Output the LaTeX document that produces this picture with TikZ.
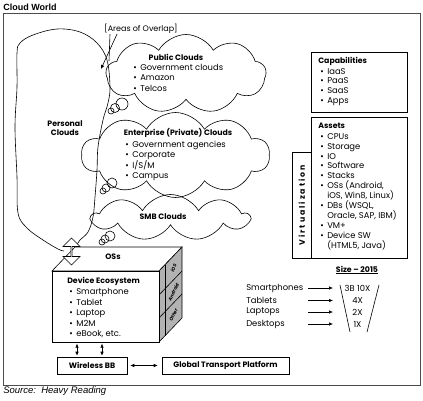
\documentclass[tikz,border=0pt]{standalone}
\usepackage{fontspec}
\setmainfont{Poppins}
\newfontfamily\arialfont{Liberation Sans}
\usetikzlibrary{arrows.meta, shapes.symbols, shapes.arrows}

\newcommand{\bl}[1]{\makebox[7pt][l]{\textbullet}#1}
\newcommand{\cn}[1]{\hspace*{7pt}#1}

\begin{document}
\begin{tikzpicture}[x=1pt,y=-1pt,>={Latex[length=4pt,width=3.5pt]},line width=0.6pt,
  txt/.style={font=\fontsize{8.4}{10.3}\selectfont, inner sep=0pt, align=left, anchor=north west},
  head/.style={font=\fontsize{7.8}{9}\selectfont\bfseries, inner sep=0pt},
  puff/.style={draw, cloud, cloud puffs=#1, cloud puff arc=120, cloud ignores aspect, inner sep=0pt},
  panel/.style={draw, rectangle, inner sep=0pt, anchor=north west},
  bbox/.style={draw, rectangle, font=\fontsize{7.8}{9}\selectfont\bfseries, minimum height=17pt, inner sep=0pt},
  slab/.style={font=\fontsize{4.6}{6}\selectfont\bfseries\itshape, rotate=65, inner sep=0pt},
  dbl/.style={<->}]
\useasboundingbox (0,0) rectangle (423,400);
% frame and captions
\node[font=\arialfont\fontsize{9}{10}\selectfont\bfseries, anchor=west, inner sep=0pt] (title) at (3,7) {Cloud World};
\draw[black!70, line width=0.8pt] (3,13) rectangle (420,385);
\node[font=\arialfont\fontsize{9.5}{10}\selectfont\itshape, anchor=west, inner sep=0pt] (src) at (3,391) {Source:\ \ Heavy Reading};

% personal clouds
\draw plot[smooth, tension=0.6] coordinates {(64,251) (58,249) (43,240) (27,228) (18,213) (17,177) (15,127) (17,87) (17,53) (20,43) (33,35) (57,29) (80,32) (97,43) (107,60) (110,87) (108,103) (103,120) (98,147) (97,170) (95,197) (93,217) (88,232) (80,240) (77,245)};
\node[head, align=center] (pers) at (65,128) {Personal\\Clouds};
\node[font=\fontsize{8}{9}\selectfont, inner sep=0pt] (ovl) at (141,29) {[Areas of Overlap]};
\coordinate (ovA) at (101,69); \coordinate (ovB) at (109,61);
\draw[->] ([xshift=-24pt]ovl.south) -- (ovA);
\draw ([xshift=-31pt]ovl.south) -- (ovB);

% clouds
\node[puff=9, minimum width=160pt, minimum height=79pt] (pub) at (186,74) {};
\node[head] at (176,57) {Public Clouds};
\node[txt] at (133,64) {\bl{Government clouds}\\\bl{Amazon}\\\bl{Telcos}};
\node[puff=10, minimum width=188pt, minimum height=85pt] (ent) at (175.5,155) {};
\node[head] at (178,133) {Enterprise (Private) Clouds};
\node[txt] at (125,141) {\bl{Government agencies}\\\bl{Corporate}\\\bl{I/S/M}\\\bl{Campus}};
\node[puff=9, minimum width=157pt, minimum height=46pt] (smb) at (170.5,217.5) {};
\node[head] at (163,217) {SMB Clouds};
\foreach \cx/\cy/\r in {122/104/6, 115/108/4.5, 111/111/3, 112/183/5, 106/188/4, 103/191/3, 110/236/5, 105/239/4, 102/242/3}
  \draw (\cx,\cy) circle[radius=\r pt];

% right panels
\node[panel, minimum width=96pt, minimum height=60pt] (cap) at (311,52) {};
\node[head, anchor=west] at (318,61) {Capabilities};
\node[txt, font=\fontsize{8.4}{9.7}\selectfont] at (320,68) {\bl{IaaS}\\\bl{PaaS}\\\bl{SaaS}\\\bl{Apps}};
\node[panel, minimum width=96pt, minimum height=141pt] (ast) at (311,117) {};
\node[head, anchor=west] at (318,126) {Assets};
\node[txt, font=\fontsize{8.4}{9.9}\selectfont] at (320,133) {\bl{CPUs}\\\bl{Storage}\\\bl{IO}\\\bl{Software}\\\bl{Stacks}\\\bl{OSs (Android,}\\\cn{iOS, Win8, Linux)}\\\bl{DBs (WSQL,}\\\cn{Oracle, SAP, IBM)}\\\bl{VM+}\\\bl{Device SW}\\\cn{(HTML5, Java)}};
\node[panel, minimum width=19pt, minimum height=106pt] (virt) at (292,152) {};
\node[head, rotate=90] at (virt.center) {\addfontfeature{LetterSpace=25}Virtualization};

% size 2015
\node[head] (size) at (357,270) {\underline{Size -- 2015}};
\coordinate (arrL) at (308,0); \coordinate (arrR) at (333,0);
\foreach \lab/\val/\yy [count=\i] in {Smartphones/3B 10X/288, Tablets/4X/300.5, Laptops/2X/312, Desktops/1X/324} {
  \node[font=\fontsize{8.4}{9}\selectfont, inner sep=0pt, anchor=west] (dv\i) at (246,\yy) {\lab};
  \node[font=\fontsize{8.4}{9}\selectfont, inner sep=0pt] (val\i) at (357.5,\yy) {\val};
  \draw[->] (dv\i -| arrL) -- (dv\i -| arrR);
}
\draw (340,285) -- (350,332); \draw (379,285) -- (367,332);

% device cube
\draw[fill=white] (52,271) -- (75,247) -- (182,247) -- (159,271) -- cycle;
\node[head] (oss) at (113,257) {OSs};
\draw[fill=black!30] (159,271) -- (182,247) -- (182,318) -- (159,342) -- cycle;
\draw (165,264.7) -- (165,335.7); \draw (159,295) -- (182,271); \draw (159,318) -- (182,294);
\node[slab] at (173.5,268) {iOS};
\node[slab] at (173.5,292) {Android};
\node[slab] at (173.5,315) {Other};
\node[panel, minimum width=107pt, minimum height=71pt, fill=white] (eco) at (52,271) {};
\node[head, anchor=west] at (67,281) {Device Ecosystem};
\node[txt, font=\fontsize{8.4}{10.5}\selectfont] at (69,288) {\bl{Smartphone}\\\bl{Tablet}\\\bl{Laptop}\\\bl{M2M}\\\bl{eBook, etc.}};
\node[draw, fill=white, double arrow, rotate=90, minimum height=27pt, minimum width=17pt, double arrow head extend=4pt, inner sep=0pt] (updn) at (71.5,251.5) {};

% transport
\node[bbox, minimum width=70pt] (wbb) at (92,365.5) {Wireless BB};
\node[bbox, minimum width=127pt] (gtp) at (225.5,365.5) {Global Transport Platform};
\draw[dbl, shorten <=3pt, shorten >=4pt] (wbb) -- (gtp);
\coordinate (lk1) at (77,0); \coordinate (lk2) at (102,0);
\draw[dbl, shorten <=1pt, shorten >=1pt] (eco.south -| lk1) -- (wbb.north -| lk1);
\draw[dbl, shorten <=1pt, shorten >=1pt] (eco.south -| lk2) -- (wbb.north -| lk2);
\end{tikzpicture}
\end{document}
